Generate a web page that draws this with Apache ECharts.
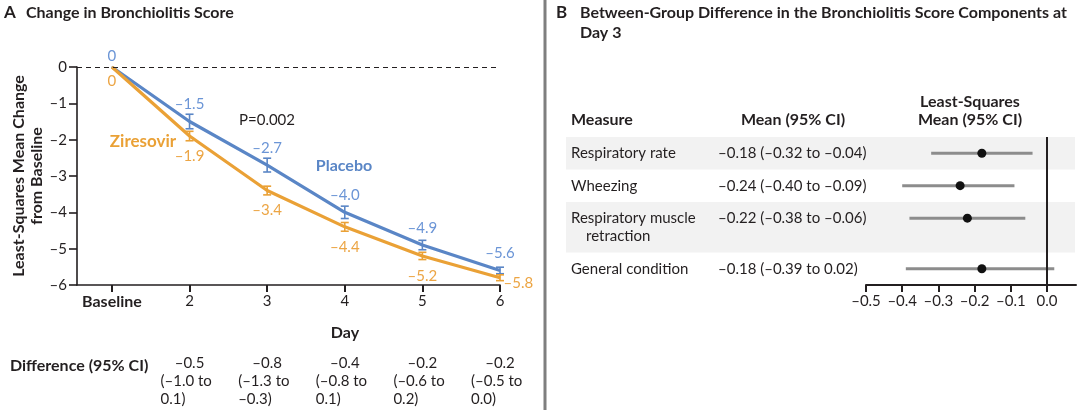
<!DOCTYPE html>
<html><head><meta charset="utf-8">
<script src="https://cdn.jsdelivr.net/npm/echarts@6/dist/echarts.min.js"></script>
<style>html,body{margin:0;padding:0;background:#fff}#c{width:1080px;height:410px}</style>
</head><body><div id="c"></div>
<script>
// ---- Panel A data ----
const dayLabels = ['Baseline', '2', '3', '4', '5', '6'];
const placebo = [0, -1.5, -2.7, -4.0, -4.9, -5.6];
const placeboErr = [0, 0.2, 0.19, 0.17, 0.13, 0.09];
const ziresovir = [0, -1.9, -3.4, -4.4, -5.2, -5.8];
const ziresovirErr = [0, 0.13, 0.12, 0.12, 0.1, 0.08];
const diffMean = ['–0.5', '–0.8', '–0.4', '–0.2', '–0.2'];
const diffLow = ['–1.0', '–1.3', '–0.8', '–0.6', '–0.5'];
const diffHigh = ['0.1', '–0.3', '0.1', '0.2', '0.0'];
// ---- Panel B data ----
const measures = ['Respiratory rate', 'Wheezing', 'Respiratory muscle\nretraction', 'General condition'];
const lsMean = [-0.18, -0.24, -0.22, -0.18];
const ciLow = [-0.32, -0.40, -0.38, -0.39];
const ciHigh = [-0.04, -0.09, -0.06, 0.02];
const forestTicks = [-0.5, -0.4, -0.3, -0.2, -0.1, 0.0];

const FONT = 'Lato';
const INK = '#231f20';
const BLUE = '#5a86c6', BLUE_T = '#6b95d6';
const ORANGE = '#eaa136', ORANGE_T = '#eca544';
const FS = 15, FSB = 16;

function fmt(v, d) { const s = Math.abs(v).toFixed(d); return (v < 0 && Number(s) !== 0 ? '–' : '') + s; }

// row layout for forest panel (in row units)
const LINE_STEP = 0.56;
const rowH = measures.map(m => 1 + LINE_STEP * (m.split('\n').length - 1));
const rowTop = []; rowH.reduce((acc, h, i) => { rowTop[i] = acc; return acc + h; }, 0);
const totalRows = rowH.reduce((a, b) => a + b, 0);

function errSeries(vals, errs, color) {
  return {
    type: 'custom', xAxisIndex: 0, yAxisIndex: 0, z: 4, silent: true,
    data: vals.map((v, i) => [i, v, errs[i]]),
    encode: { x: 0, y: 1 },
    renderItem: (params, api) => {
      const x = api.value(0), y = api.value(1), e = api.value(2);
      if (!e) return null;
      const t = api.coord([x, y + e]), b = api.coord([x, y - e]);
      const cw = 4, st = { stroke: color, lineWidth: 1.6 };
      return { type: 'group', children: [
        { type: 'line', shape: { x1: t[0], y1: t[1], x2: b[0], y2: b[1] }, style: st },
        { type: 'line', shape: { x1: t[0] - cw, y1: t[1], x2: t[0] + cw, y2: t[1] }, style: st },
        { type: 'line', shape: { x1: b[0] - cw, y1: b[1], x2: b[0] + cw, y2: b[1] }, style: st }
      ] };
    }
  };
}

function lineSeries(name, vals, errs, color, tColor, pos) {
  const last = vals.length - 1;
  return {
    name, type: 'line', xAxisIndex: 0, yAxisIndex: 0, z: 3,
    data: vals.map((v, i) => {
      const item = { value: [i, v] };
      if (i === 0) item.label = { distance: pos === 'top' ? 3 : 6 };
      if (pos === 'bottom' && i === last) item.label = { position: 'right', distance: 3, offset: [0, 5] };
      return item;
    }),
    lineStyle: { color, width: 3.2 }, itemStyle: { color }, symbol: 'circle', symbolSize: 1,
    label: { show: true, position: pos, distance: pos === 'top' ? 9 : 12, color: tColor, fontSize: FS, fontFamily: FONT,
      formatter: p => p.value[1] === 0 ? '0' : fmt(p.value[1], 1) },
    silent: true
  };
}

const chart = echarts.init(document.getElementById('c'), null, { renderer: 'canvas' });
const axisLine = { show: true, onZero: false, lineStyle: { color: INK, width: 1.6 } };
const T = (text, x, y, o) => ({ type: 'text', x, y, style: Object.assign({ text, fontSize: FSB, fontWeight: 'bold', fontFamily: FONT, fill: INK, verticalAlign: 'middle', align: 'left' }, o || {}) });

const option = {
  animation: false,
  textStyle: { fontFamily: FONT, color: INK },
  grid: [
    { left: 77, right: 580, top: 67, height: 218 },
    { left: 866, right: 4, top: 137, height: 148 }
  ],
  xAxis: [
    { gridIndex: 0, type: 'value', min: -0.45, max: 5, axisLine,
      axisTick: { show: true, customValues: [0, 1, 2, 3, 4, 5], length: 7, lineStyle: { color: INK, width: 2 } },
      axisLabel: { customValues: [0, 1, 2, 3, 4, 5], margin: 9, fontSize: FS, color: INK, fontFamily: FONT,
        formatter: v => { const i = Math.round(v); return i === 0 ? '{b|Baseline}' : dayLabels[i]; },
        rich: { b: { fontWeight: 'bold', fontSize: FSB, fontFamily: FONT, color: INK } } },
      splitLine: { show: false } },
    { gridIndex: 0, type: 'value', min: -0.45, max: 5, position: 'bottom', offset: 69,
      axisLine: { show: false, onZero: false }, axisTick: { show: false }, splitLine: { show: false },
      axisLabel: { customValues: [1, 2, 3, 4, 5], margin: 0, fontSize: FS, color: INK, fontFamily: FONT, lineHeight: 18,
        formatter: v => { const i = Math.round(v) - 1; return `{m|${diffMean[i]}}\n{w|(${diffLow[i]} to}\n{w|${diffHigh[i]})}`; },
        rich: { m: { fontSize: FS, lineHeight: 18, fontFamily: FONT, color: INK },
                w: { fontSize: FS, lineHeight: 18, width: 58, align: 'left', fontFamily: FONT, color: INK } } } },
    { gridIndex: 1, type: 'value', min: -0.5, max: 0.08,
      axisLine: { show: true, onZero: false, lineStyle: { color: INK, width: 2 } },
      axisTick: { show: true, customValues: forestTicks, length: 7, lineStyle: { color: INK, width: 2 } },
      axisLabel: { customValues: forestTicks, margin: 9, fontSize: FS, color: INK, fontFamily: FONT, formatter: v => fmt(v, 1) },
      splitLine: { show: false } }
  ],
  yAxis: [
    { gridIndex: 0, type: 'value', min: -6, max: 0, interval: 1, axisLine,
      axisTick: { show: true, length: 8, lineStyle: { color: INK, width: 1.6 } },
      axisLabel: { margin: 10, fontSize: FS, color: INK, fontFamily: FONT, formatter: v => v === 0 ? '0' : '–' + Math.abs(v) },
      splitLine: { show: false },
      name: 'Least-Squares Mean Change\nfrom Baseline', nameLocation: 'middle', nameGap: 28,
      nameTextStyle: { fontWeight: 'bold', fontSize: FSB, lineHeight: 18, color: INK, fontFamily: FONT } },
    { gridIndex: 1, type: 'value', min: 0, max: totalRows, inverse: true, show: false }
  ],
  series: [
    { type: 'line', xAxisIndex: 0, yAxisIndex: 0, data: [], silent: true,
      markLine: { silent: true, symbol: 'none', label: { show: false }, data: [{ yAxis: 0 }],
        lineStyle: { color: INK, width: 1, type: [5, 4] } } },
    lineSeries('Placebo', placebo, placeboErr, BLUE, BLUE_T, 'top'),
    lineSeries('Ziresovir', ziresovir, ziresovirErr, ORANGE, ORANGE_T, 'bottom'),
    errSeries(placebo, placeboErr, BLUE),
    errSeries(ziresovir, ziresovirErr, ORANGE),
    // bands + row text
    { type: 'custom', xAxisIndex: 2, yAxisIndex: 1, z: 1, silent: true,
      data: measures.map((m, i) => [lsMean[i], i]), encode: { x: 0, y: 1 },
      renderItem: (params, api) => {
        const i = api.value(1);
        const top = api.coord([0, rowTop[i]])[1], bot = api.coord([0, rowTop[i] + rowH[i]])[1];
        const children = [];
        if (i % 2 === 0) children.push({ type: 'rect', shape: { x: 566, y: top, width: 509, height: bot - top }, style: { fill: '#f2f2f2' } });
        const lines = measures[i].split('\n');
        lines.forEach((ln, k) => {
          const y = api.coord([0, rowTop[i] + 0.5 + k * LINE_STEP])[1];
          children.push({ type: 'text', x: 571 + (k > 0 ? 15 : 0), y, style: { text: ln, fontSize: FS, fontFamily: FONT, fill: INK, verticalAlign: 'middle', align: 'left' } });
        });
        const yc = api.coord([0, rowTop[i] + 0.5])[1];
        children.push({ type: 'text', x: 718, y: yc, style: { text: `${fmt(lsMean[i], 2)} (${fmt(ciLow[i], 2)} to ${fmt(ciHigh[i], 2)})`, fontSize: FS, fontFamily: FONT, fill: INK, verticalAlign: 'middle', align: 'left' } });
        return { type: 'group', children };
      } },
    // CI lines and dots
    { type: 'custom', xAxisIndex: 2, yAxisIndex: 1, z: 3, silent: true,
      data: measures.map((m, i) => [lsMean[i], ciLow[i], ciHigh[i], i]), encode: { x: [0, 1, 2], y: 3 },
      renderItem: (params, api) => {
        const i = api.value(3), yv = rowTop[i] + 0.5;
        const p = api.coord([api.value(0), yv]), l = api.coord([api.value(1), yv]), h = api.coord([api.value(2), yv]);
        return { type: 'group', children: [
          { type: 'line', shape: { x1: l[0], y1: l[1], x2: h[0], y2: h[1] }, style: { stroke: '#8c8c8c', lineWidth: 3 } },
          { type: 'circle', shape: { cx: p[0], cy: p[1], r: 4.5 }, style: { fill: '#111' } }
        ] };
      },
      markLine: { silent: true, symbol: 'none', label: { show: false }, data: [{ xAxis: 0 }],
        lineStyle: { color: INK, width: 2, type: 'solid' } } }
  ],
  graphic: [
    { type: 'rect', shape: { x: 543.5, y: 0, width: 3, height: 410 }, style: { fill: '#7f7f7f' } },
    T('A', 4, 13, { fontSize: 17 }),
    T('Change in Bronchiolitis Score', 26, 13),
    T('B', 556, 13, { fontSize: 17 }),
    T('Between-Group Difference in the Bronchiolitis Score Components at', 580, 13),
    T('Day 3', 580, 33),
    T('Measure', 571, 120),
    T('Mean (95% CI)', 793, 120, { align: 'center' }),
    T('Least-Squares', 970, 102, { align: 'center' }),
    T('Mean (95% CI)', 970, 120, { align: 'center' }),
    T('Ziresovir', 143, 142, { align: 'center', fill: ORANGE, fontSize: 17 }),
    T('Placebo', 344, 166, { align: 'center', fill: BLUE, fontSize: 16 }),
    T('P=0.002', 267, 120, { align: 'center', fontWeight: 'normal', fontSize: FS }),
    T('Day', 345, 333, { align: 'center' }),
    T('Difference (95% CI)', 10, 366)
  ]
};
chart.setOption(option);
</script></body></html>
